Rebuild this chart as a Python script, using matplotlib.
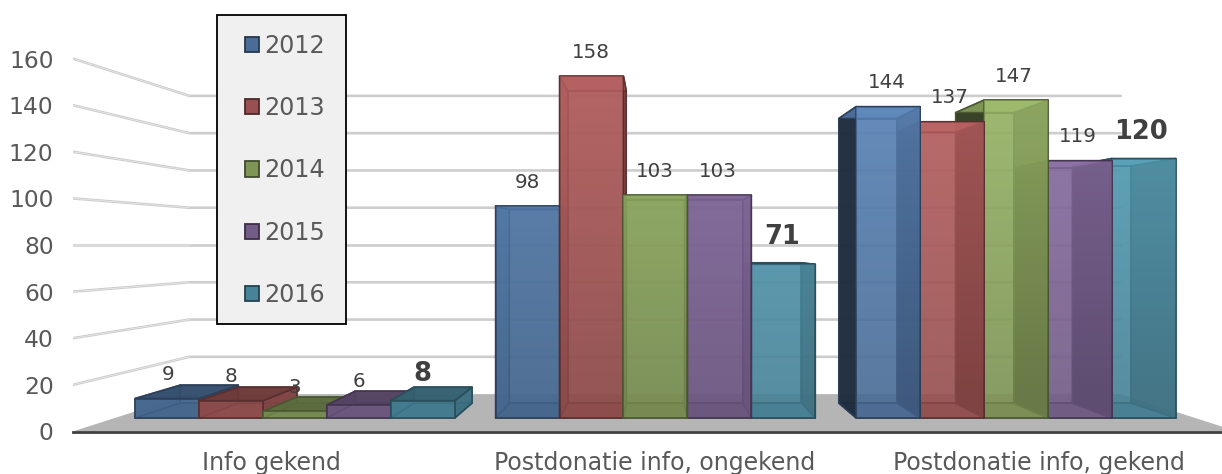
import numpy as np
import matplotlib
matplotlib.use("Agg")
import matplotlib.pyplot as plt
from matplotlib.patches import Patch, Polygon, Rectangle
from matplotlib.colors import to_rgb

# Chart data
categories = ["Info gekend", "Postdonatie info, ongekend", "Postdonatie info, gekend"]
years = ["2012", "2013", "2014", "2015", "2016"]
values_2012 = [9, 98, 144]
values_2013 = [8, 158, 137]
values_2014 = [3, 103, 147]
values_2015 = [6, 103, 119]
values_2016 = [8, 71, 120]
series = [values_2012, values_2013, values_2014, values_2015, values_2016]
y_ticks = [0, 20, 40, 60, 80, 100, 120, 140, 160]
colors = ["#4a6d98", "#985050", "#7e9555", "#735c88", "#478499"]

# Perspective of the 3-D scene: depth scale factors and the vanishing centre
W, H = 1222, 474
CX, CY, V_MID, V_SCALE = 655, 245, 80, 2.33
F_FRONT_WALL, F_BACK_WALL = 1.0, 0.80
F_BAR_FRONT, F_BAR_BACK = 0.928, 0.848
F_LABEL = 0.987
CAT_STEP, BAR_W = 388.5, 68.9
BAR_SHIFT = 0.5
WALL_HALF = 582.0


def project(x, v, f):
    """Map scene position x, value v at depth factor f to canvas coordinates."""
    return CX + x * f, CY - (v - V_MID) * V_SCALE * f


def shade(c, k):
    return tuple(min(1, ch * k) for ch in to_rgb(c))


fig = plt.figure(figsize=(W / 100, H / 100), dpi=100)
plt.rcParams["font.family"] = ["DejaVu Sans"]
ax = fig.add_axes([73 / W, (H - 431.5) / H, (W - 73) / W, 431.5 / H])
ax.set_xlim(73, W)
ax.set_ylim(431.5, 0)
for side in ("top", "left", "right"):
    ax.spines[side].set_visible(False)
ax.spines["bottom"].set_color("#404040")
ax.spines["bottom"].set_linewidth(2.0)
ax.patch.set_visible(False)

# Value axis and category axis
ax.set_yticks([project(0, t, 1.0)[1] for t in y_ticks], [str(t) for t in y_ticks])
ax.tick_params(axis="y", length=0, pad=14, labelsize=16.8, labelcolor="#595959")
ax.set_xticks([project((i - 1) * CAT_STEP, 0, F_LABEL)[0] for i in range(3)], categories)
ax.tick_params(axis="x", length=0, pad=14, labelsize=17.0, labelcolor="#595959")

# Floor
floor = [project(-WALL_HALF, 0, 1), project(-WALL_HALF, 0, F_BACK_WALL),
         project(WALL_HALF, 0, F_BACK_WALL), project(WALL_HALF, 0, 1)]
ax.add_patch(Polygon(floor, closed=True, fc="#b5b5b5", ec="none", zorder=1, clip_on=False))

# Grid lines along the side wall and the back wall
for t in y_ticks[1:]:
    pts = [project(-WALL_HALF, t, 1), project(-WALL_HALF, t, F_BACK_WALL), project(WALL_HALF, t, F_BACK_WALL)]
    ax.plot(*zip(*pts), color="#cdcdcd", lw=1.9, zorder=2, solid_capstyle="round")
    ax.plot(*zip(*pts[:2]), color="#f0f0f0", lw=0.4, zorder=2)


def draw_bar(x0, x1, v, color, z):
    """Draw a see-through box with perspective between the bar's two depth planes."""
    fbl, ftl = project(x0, 0, F_BAR_FRONT), project(x0, v, F_BAR_FRONT)
    ftr, fbr = project(x1, v, F_BAR_FRONT), project(x1, 0, F_BAR_FRONT)
    bbl, btl = project(x0, 0, F_BAR_BACK), project(x0, v, F_BAR_BACK)
    btr, bbr = project(x1, v, F_BAR_BACK), project(x1, 0, F_BAR_BACK)
    edge = shade(color, 0.58)
    on_right = (x0 + x1) / 2 > 100
    faces = [
        ([bbl, btl, btr, bbr], 0.85, 0.75),                       # back
        ([bbl, fbl, fbr, bbr], 0.78, 0.85),                       # bottom
        ([bbl, btl, ftl, fbl], 0.38 if on_right else 0.85, 0.9),  # left side
        ([bbr, btr, ftr, fbr], 0.52 if on_right else 0.85, 0.9),  # right side
        ([btl, ftl, ftr, btr], 0.72 if v < V_MID else 1.05, 0.9),  # top
        ([fbl, ftl, ftr, fbr], 1.05 if on_right else 0.96, 0.6 if on_right else 0.75),  # front
    ]
    for i, (pts, k, a) in enumerate(faces):
        ax.add_patch(Polygon(pts, closed=True, fc=shade(color, k) + (a,), ec=edge + (0.9,),
                             lw=1.2, zorder=z + i * 0.01, joinstyle="round"))
    # Soft light on the front, fading towards the floor
    front = Polygon([fbl, ftl, ftr, fbr], closed=True, fc="none", ec="none")
    ax.add_patch(front)
    ys = np.linspace(ftl[1], fbl[1], 32)
    grad = np.ones((32, 1, 4))
    grad[:, 0, :3] = shade(color, 1.7)
    grad[:, 0, 3] = np.clip((400 - ys) / 300, 0, 1) * 0.28
    im = ax.imshow(grad, extent=(fbl[0], fbr[0], fbl[1], ys[0]),
                   origin="upper", aspect="auto", zorder=z + 0.08, interpolation="bilinear")
    im.set_clip_path(front)


# Boxes are painted from the outside of the scene towards its centre
bars = []
for i in range(3):
    for j in range(5):
        x0 = (i - 1) * CAT_STEP + (j - 2.5) * BAR_W + BAR_SHIFT
        bars.append((abs(x0 + BAR_W / 2), x0, series[j][i], colors[j]))
bars.sort(key=lambda b: -b[0])
for n, (_, x0, v, c) in enumerate(bars):
    draw_bar(x0, x0 + BAR_W, v, c, 3 + n * 0.1)

ax.set_xlim(73, W)
ax.set_ylim(431.5, 0)

# Value labels; the last series is emphasised
for i in range(3):
    for j in range(5):
        v = series[j][i]
        bar_mid = (i - 1) * CAT_STEP + (j - 2) * BAR_W
        x = project(bar_mid, v, 0.925)[0] - 0.5
        y = project(bar_mid, v, F_BAR_FRONT)[1]
        bold = j == 4
        ax.text(x, y - (27 if bold else 24), str(v), ha="center", va="center", zorder=20,
                fontsize=18.5 if bold else 14.3, fontweight="bold" if bold else "normal",
                color="#404040")

# Legend in a framed panel
ax.add_patch(Rectangle((216.5, 14.5), 129, 309, fc="#f0f0f0", ec="black", lw=1.3, zorder=8))
handles = [Patch(fc=c, ec=shade(c, 0.5), lw=1.3, label=y) for c, y in zip(colors, years)]
leg = ax.legend(handles=handles, frameon=False, loc="upper left",
                bbox_to_anchor=(245 / W, 1 - 34 / H), bbox_transform=fig.transFigure,
                fontsize=17.2, labelcolor="#595959", handlelength=0.6, handleheight=0.6,
                handletextpad=0.2, labelspacing=1.6, borderpad=0, borderaxespad=0)
leg.set_zorder(9)

fig.savefig("out.png", dpi=100)
